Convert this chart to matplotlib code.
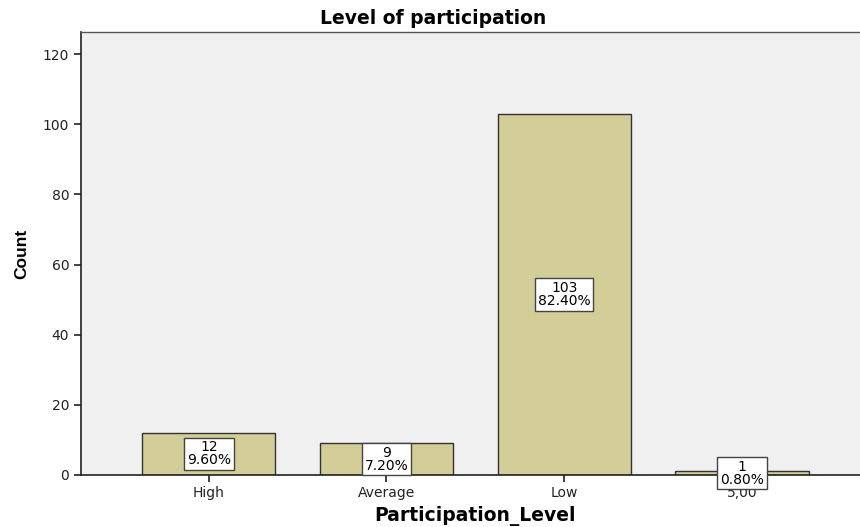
import matplotlib.pyplot as plt

plt.rcParams['font.family'] = ['DejaVu Sans']

levels = ['High', 'Average', 'Low', '5,00']
counts = [12, 9, 103, 1]
percents = [9.60, 7.20, 82.40, 0.80]

fig = plt.figure(figsize=(8.6, 5.27), dpi=100)
ax = fig.add_axes([0.0942, 0.0987, 0.917, 0.8406])
ax.set_facecolor('#f0f0f0')

x = range(len(levels))
ax.bar(x, counts, 0.75, color='#d3ce97', edgecolor='#333333', linewidth=1.0, zorder=2)

# count and percentage box in the middle of each bar
for i, (c, p) in enumerate(zip(counts, percents)):
    ax.text(i, c / 2, f'{c}\n{p:.2f}%', ha='center', va='center', fontsize=10,
            linespacing=0.9, zorder=5, clip_on=False,
            bbox=dict(boxstyle='square,pad=0.2', fc='white', ec='#444444', lw=1.0))

ax.set_xlim(-0.719, 3.719)
ax.set_ylim(0, 126.3)
ax.set_yticks([0, 20, 40, 60, 80, 100, 120])
ax.set_xticks(list(x))
ax.set_xticklabels(levels)
ax.tick_params(axis='both', labelsize=10, length=5, width=1.2, color='#222222', labelcolor='#222222')
ax.tick_params(axis='x', pad=3)

for side in ['left', 'bottom']:
    ax.spines[side].set_color('#222222')
    ax.spines[side].set_linewidth(1.2)
for side in ['top', 'right']:
    ax.spines[side].set_color('#555555')
    ax.spines[side].set_linewidth(1.0)

ax.set_title('Level of participation', fontsize=13.5, fontweight='bold', pad=6, x=0.446)
ax.set_xlabel('Participation_Level', fontsize=13.5, fontweight='bold', labelpad=4)
ax.set_ylabel('Count', fontsize=12.5, fontweight='bold', family=['Liberation Sans'], labelpad=10)

fig.savefig('out.png', dpi=100)
